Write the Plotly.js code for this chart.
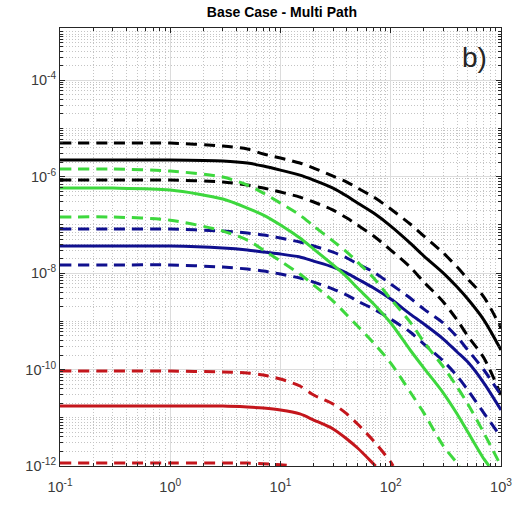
<!DOCTYPE html>
<html>
<head>
<meta charset="utf-8">
<script src="https://cdn.plot.ly/plotly-3.0.1.min.js"></script>
<style>html,body{margin:0;padding:0;background:#fff;}#chart{width:524px;height:508px;}</style>
</head>
<body>
<div id="chart"></div>
<script>
// Common x samples
const xGrid = [0.1,0.3,1,3,5,7,10,15,20,30,40,50,70,100,150,200,300,400,500,700,1000];

// Black curves
const blackUpper = [4.94e-6,4.94e-6,4.94e-6,4.29e-6,3.72e-6,2.93e-6,2.42e-6,1.91e-6,1.50e-6,1.02e-6,7.69e-7,5.78e-7,3.76e-7,2.12e-7,1.04e-7,5.85e-8,2.60e-8,1.33e-8,7.51e-9,3.18e-9,7.24e-10];
const blackMid   = [2.20e-6,2.20e-6,2.20e-6,2.10e-6,1.91e-6,1.65e-6,1.36e-6,1.07e-6,8.45e-7,5.78e-7,3.94e-7,2.82e-7,1.75e-7,9.42e-8,4.19e-8,2.25e-8,1.00e-8,5.13e-9,2.89e-9,1.06e-9,2.54e-10];
const blackLower = [8.45e-7,8.45e-7,8.45e-7,7.69e-7,6.67e-7,5.78e-7,4.77e-7,3.76e-7,2.97e-7,2.02e-7,1.38e-7,9.89e-8,5.85e-8,3.00e-8,1.33e-8,6.50e-9,2.51e-9,1.06e-9,4.94e-10,1.73e-10,2.96e-11];

// Blue curves
const blueUpper = [8.17e-8,8.17e-8,8.17e-8,7.41e-8,6.75e-8,6.14e-8,5.31e-8,4.39e-8,3.63e-8,2.72e-8,2.05e-8,1.54e-8,1.05e-8,5.92e-9,3.03e-9,1.79e-9,9.20e-10,4.72e-10,2.54e-10,9.77e-11,2.96e-11];
const blueMid   = [3.63e-8,3.63e-8,3.63e-8,3.30e-8,3.00e-8,2.72e-8,2.48e-8,2.15e-8,1.77e-8,1.33e-8,1.00e-8,7.51e-9,4.89e-9,2.89e-9,1.41e-9,8.77e-10,4.29e-10,2.31e-10,1.43e-10,5.25e-11,1.45e-11];
const blueLower = [1.47e-8,1.47e-8,1.47e-8,1.33e-8,1.21e-8,1.10e-8,9.53e-9,7.87e-9,6.50e-9,4.66e-9,3.50e-9,2.63e-9,1.79e-9,1.11e-9,5.98e-10,3.37e-10,1.50e-10,7.33e-11,3.76e-11,1.25e-11,3.99e-12];

// Green curves
const greenUpperX = [0.1,0.3,1,3,5,7,10,15,20,30,40,50,70,100,150,200,300,400,500,700,1000];
const greenUpper  = [1.43e-6,1.43e-6,1.30e-6,9.77e-7,6.67e-7,4.55e-7,2.82e-7,1.59e-7,9.42e-8,4.60e-8,2.72e-8,1.69e-8,7.87e-9,2.89e-9,9.64e-10,3.72e-10,1.13e-10,4.34e-11,1.93e-11,4.83e-12,1.0e-12];
const greenMidX = [0.1,0.3,1,3,5,7,10,15,20,30,40,50,70,100,150,200,300,400,500,700,780];
const greenMid  = [5.78e-7,5.78e-7,5.25e-7,3.42e-7,2.22e-7,1.59e-7,9.89e-8,5.31e-8,3.14e-8,1.47e-8,8.26e-9,4.89e-9,2.28e-9,9.20e-10,2.54e-10,1.07e-10,3.26e-11,1.20e-11,5.07e-12,1.40e-12,1.0e-12];
const greenLowerX = [0.1,0.3,1,3,5,7,10,15,20,30,40,50,70,100,150,200,300,400,420];
const greenLower  = [1.45e-7,1.45e-7,1.25e-7,7.41e-8,4.83e-8,3.00e-8,1.77e-8,9.53e-9,5.64e-9,2.63e-9,1.35e-9,7.97e-10,3.54e-10,1.36e-10,3.42e-11,1.25e-11,2.60e-12,1.15e-12,1.0e-12];

// Red curves
const redUpperX = [0.1,0.3,1,3,5,7,10,15,20,30,40,50,70,100,105];
const redUpper  = [9.31e-11,9.31e-11,9.31e-11,8.87e-11,8.46e-11,7.69e-11,6.35e-11,4.55e-11,2.96e-11,1.93e-11,1.20e-11,7.41e-12,3.30e-12,1.21e-12,1.0e-12];
const redMidX = [0.1,0.3,1,3,5,7,10,15,20,30,40,50,70,73];
const redMid  = [1.75e-11,1.75e-11,1.75e-11,1.75e-11,1.67e-11,1.59e-11,1.45e-11,1.20e-11,8.98e-12,5.85e-12,3.63e-12,2.36e-12,1.10e-12,1.0e-12];
const redLowerX = [0.1,1,3,5,7,10,13];
const redLower  = [1.15e-12,1.15e-12,1.15e-12,1.15e-12,1.12e-12,1.06e-12,1.0e-12];

// Tick labels
const xTickVals = [0.1,1,10,100,1000];
const xTickText = ['10<sup>-1</sup>','10<sup>0</sup>','10<sup>1</sup>','10<sup>2</sup>','10<sup>3</sup>'];
const yTickVals = [1e-12,1e-10,1e-8,1e-6,1e-4];
const yTickText = ['10<sup>-12</sup>','10<sup>-10</sup>','10<sup>-8</sup>','10<sup>-6</sup>','10<sup>-4</sup>'];

const BLACK = '#000000', BLUE = '#10108e', GREEN = '#3ed83e', RED = '#c4161c';
const DASH = '11px,7px';

function tr(x, y, color, dashed, w) {
  return {x: x, y: y, type: 'scatter', mode: 'lines', hoverinfo: 'skip',
    line: {color: color, width: w || 3, dash: dashed ? DASH : 'solid', shape: 'spline', smoothing: 0.8}};
}

const traces = [
  tr(xGrid, blackUpper, BLACK, true),
  tr(xGrid, blackMid, BLACK, false),
  tr(xGrid, blackLower, BLACK, true),
  tr(xGrid, blueUpper, BLUE, true),
  tr(xGrid, blueMid, BLUE, false),
  tr(xGrid, blueLower, BLUE, true),
  tr(greenUpperX, greenUpper, GREEN, true),
  tr(greenMidX, greenMid, GREEN, false),
  tr(greenLowerX, greenLower, GREEN, true),
  tr(redUpperX, redUpper, RED, true),
  tr(redMidX, redMid, RED, false),
  tr(redLowerX, redLower, RED, true)
];

// minor tick positions (2..9 in each decade, plus unlabeled decades on y)
const xMinor = [];
for (let d = -1; d <= 2; d++) for (let k = 2; k <= 9; k++) xMinor.push(k * Math.pow(10, d));
const yMinor = [];
for (let d = -12; d <= -3; d++) {
  for (let k = 2; k <= 9; k++) yMinor.push(k * Math.pow(10, d));
  if (d % 2 !== 0) yMinor.push(Math.pow(10, d));
}

const tickFont = {family: 'Liberation Sans, Arial, sans-serif', size: 14.5, color: '#3a3a3a'};
function axis(range, vals, text, minorVals, standoff) {
  return {
    type: 'log', range: range, tickmode: 'array', tickvals: vals, ticktext: text,
    ticks: 'inside', ticklen: 5, tickwidth: 1, tickcolor: '#262626',
    showline: true, linecolor: '#262626', linewidth: 1, mirror: 'allticks',
    showgrid: true, gridcolor: '#dcdcdc', gridwidth: 1, zeroline: false,
    tickfont: tickFont, fixedrange: true, ticklabelstandoff: standoff,
    minor: {tickmode: 'array', tickvals: minorVals, ticks: 'inside', ticklen: 3, tickwidth: 1, tickcolor: '#262626',
      showgrid: true, gridcolor: '#c4c4c4', griddash: '1px,2px', gridwidth: 1}
  };
}

const layout = {
  width: 524, height: 508,
  margin: {l: 60, r: 23, t: 28, b: 42},
  paper_bgcolor: '#ffffff', plot_bgcolor: '#ffffff',
  showlegend: false,
  title: {text: '<b>Base Case - Multi Path</b>', x: 0.538, xanchor: 'center', y: 0.976, yanchor: 'middle', yref: 'container',
    font: {family: 'Liberation Sans, Arial, sans-serif', size: 14, color: '#000000'}},
  xaxis: axis([-1, 3], xTickVals, xTickText, xMinor, 8),
  yaxis: axis([-12, -2.92], yTickVals, yTickText, yMinor, 0),
  annotations: [{text: 'b)', xref: 'paper', yref: 'paper', x: 0.941, y: 0.932, xanchor: 'center', yanchor: 'middle',
    showarrow: false, font: {family: 'Liberation Sans, Arial, sans-serif', size: 28, color: '#262626'}}]
};

Plotly.newPlot('chart', traces, layout, {staticPlot: true, displayModeBar: false});
</script>
</body>
</html>
